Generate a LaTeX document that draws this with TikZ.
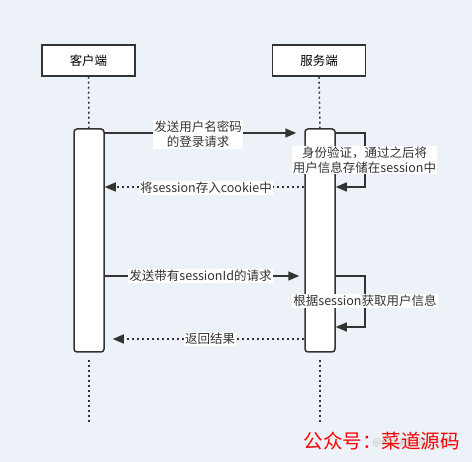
\documentclass[tikz,border=0pt]{standalone}
\usepackage{fontspec}
\setmainfont{Noto Sans CJK SC}
\usetikzlibrary{arrows.meta}
\definecolor{bgblue}{RGB}{237,241,248}
\definecolor{ink}{RGB}{51,51,51}
\tikzset{
  head/.style={draw=ink, line width=1.5pt, fill=white, minimum width=93pt, minimum height=31pt, inner sep=0pt},
  act/.style={draw=ink, line width=1.5pt, fill=white, rounded corners=3pt, minimum width=30pt, minimum height=223pt, inner sep=0pt},
  life/.style={draw=ink, line width=1.5pt, dash pattern=on 2pt off 3pt},
  msg/.style={draw=ink, line width=1.5pt, -{Triangle[length=11pt,width=9pt]}},
  ret/.style={msg, dash pattern=on 2pt off 3pt},
  lbl/.style={fill=white, inner sep=1pt, align=center, text=ink, font=\fontsize{12.5}{15}\selectfont}
}
\begin{document}
\begin{tikzpicture}[x=1pt, y=-1pt, font=\fontsize{12.5}{15}\selectfont]
    \fill[bgblue] (0,0) rectangle (472,462);
    \useasboundingbox (0,0) rectangle (472,462);
    % participants
    \node[head] (client) at (88.5,60.5) {客户端};
    \node[head] (server) at (319,60.5) {服务端};
    \node[act] (actC) at (89,240.5) {};
    \node[act] (actS) at (320,240.5) {};
    \draw[life] (client.south) -- (actC.north);
    \draw[life] (server.south) -- (actS.north);
    \draw[life] (actC.south) ++(0,7) -- ++(0,63);
    \draw[life] (actS.south) ++(0,7) -- ++(0,63);
    % login
    \draw[msg, shorten >=8pt] (actC.east |- 0,133) -- (actS.west |- 0,133);
    \node[lbl] (login) at (198,134.5) {发送用户名密码\\的登录请求};
    \draw[msg] (actS.east |- 0,133) -| (365,160) |- (actS.east |- 0,187);
    \node[lbl] (verify) at (364.5,160) {身份验证，通过之后将\\用户信息存储在session中};
    \draw[ret] (actS.west |- 0,187) -- (actC.east |- 0,187);
    \node[lbl] (cookie) at (206,188) {将session存入cookie中};
    % request with session id
    \draw[msg, shorten >=5pt] (actC.east |- 0,276) -- (actS.west |- 0,276);
    \node[lbl] (req) at (200.5,276) {发送带有sessionId的请求};
    \draw[msg] (actS.east |- 0,276) -| (365,301) |- (actS.east |- 0,327);
    \node[lbl] (fetch) at (365,301) {根据session获取用户信息};
    \draw[ret, shorten >=8pt] (actS.west |- 0,339) -- (actC.east |- 0,339);
    \node[lbl] (result) at (210,339) {返回结果};
    % watermark
    \node[text=black!25, font=\fontsize{9}{10}\selectfont] (site) at (413,442) {@稀土掘金技术社区};
    \node[text=red, font=\fontsize{19.5}{22}\selectfont] (mark) at (381.5,441) {公众号：菜道源码};
\end{tikzpicture}
\end{document}
